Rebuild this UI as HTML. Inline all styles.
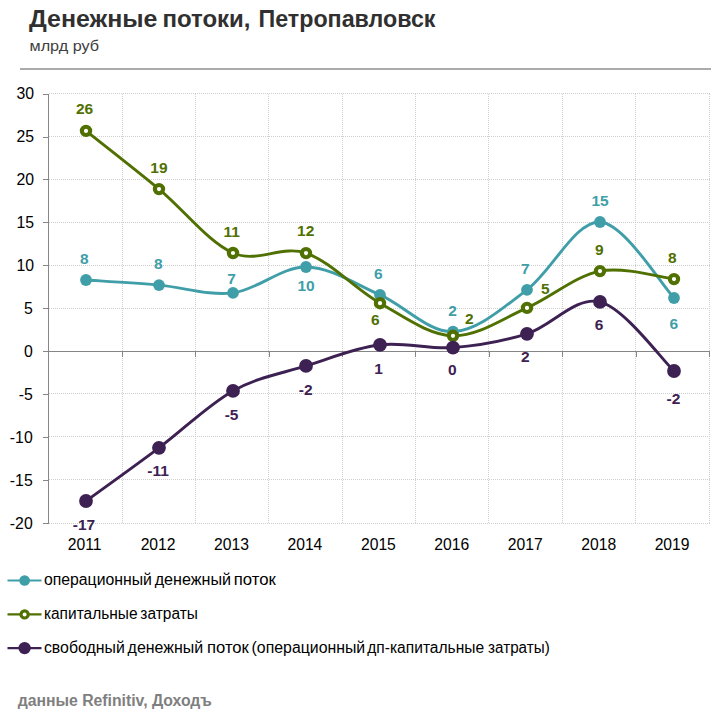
<!DOCTYPE html>
<html><head><meta charset="utf-8">
<style>
html,body{margin:0;padding:0;background:#fff;}
body{width:722px;height:722px;overflow:hidden;position:relative;}
svg{position:absolute;left:0;top:0;}
text{font-family:"Liberation Sans",sans-serif;}
.grid{stroke:#cfcfcf;stroke-width:1;stroke-dasharray:1 1;}
.axis{stroke:#868686;stroke-width:1;}
.yl{font-size:15.8px;fill:#000;text-anchor:end;}
.xl{font-size:15.7px;fill:#000;text-anchor:middle;}
.dl{font-size:15.5px;font-weight:bold;text-anchor:middle;}
.lg{font-size:15.6px;fill:#000;}
.title{font-size:23.4px;font-weight:bold;fill:#303030;}
.sub{font-size:15px;fill:#404040;}
.foot{font-size:15.8px;font-weight:bold;fill:#7f7f7f;}
</style></head><body>
<svg width="722" height="722" viewBox="0 0 722 722">
<text x="29" y="26.7" class="title" textLength="128.5" lengthAdjust="spacingAndGlyphs">Денежные</text><text x="162.5" y="26.7" class="title" textLength="88" lengthAdjust="spacingAndGlyphs">потоки,</text><text x="258.5" y="26.7" class="title" textLength="177" lengthAdjust="spacingAndGlyphs">Петропавловск</text>
<text x="29.5" y="51" class="sub" textLength="69.5" lengthAdjust="spacingAndGlyphs">млрд руб</text>
<rect x="20" y="68" width="691" height="2" fill="#ababab"/>
<line x1="49" y1="93.5" x2="710" y2="93.5" class="grid"/>
<line x1="49" y1="136.5" x2="710" y2="136.5" class="grid"/>
<line x1="49" y1="179.5" x2="710" y2="179.5" class="grid"/>
<line x1="49" y1="222.5" x2="710" y2="222.5" class="grid"/>
<line x1="49" y1="265.5" x2="710" y2="265.5" class="grid"/>
<line x1="49" y1="308.5" x2="710" y2="308.5" class="grid"/>
<line x1="49" y1="393.5" x2="710" y2="393.5" class="grid"/>
<line x1="49" y1="436.5" x2="710" y2="436.5" class="grid"/>
<line x1="49" y1="479.5" x2="710" y2="479.5" class="grid"/>
<line x1="49" y1="523.5" x2="710" y2="523.5" class="grid"/>
<line x1="122.5" y1="94" x2="122.5" y2="523" class="grid"/>
<line x1="195.5" y1="94" x2="195.5" y2="523" class="grid"/>
<line x1="268.5" y1="94" x2="268.5" y2="523" class="grid"/>
<line x1="342.5" y1="94" x2="342.5" y2="523" class="grid"/>
<line x1="415.5" y1="94" x2="415.5" y2="523" class="grid"/>
<line x1="488.5" y1="94" x2="488.5" y2="523" class="grid"/>
<line x1="562.5" y1="94" x2="562.5" y2="523" class="grid"/>
<line x1="635.5" y1="94" x2="635.5" y2="523" class="grid"/>
<line x1="709.5" y1="94" x2="709.5" y2="523" class="grid"/>
<line x1="122.5" y1="351" x2="122.5" y2="357" class="axis"/>
<line x1="195.5" y1="351" x2="195.5" y2="357" class="axis"/>
<line x1="269.5" y1="351" x2="269.5" y2="357" class="axis"/>
<line x1="342.5" y1="351" x2="342.5" y2="357" class="axis"/>
<line x1="415.5" y1="351" x2="415.5" y2="357" class="axis"/>
<line x1="489.5" y1="351" x2="489.5" y2="357" class="axis"/>
<line x1="562.5" y1="351" x2="562.5" y2="357" class="axis"/>
<line x1="636.5" y1="351" x2="636.5" y2="357" class="axis"/>
<line x1="709.5" y1="351" x2="709.5" y2="357" class="axis"/>
<line x1="48.5" y1="94" x2="48.5" y2="524" class="axis"/>
<line x1="43" y1="94.5" x2="49" y2="94.5" class="axis"/>
<text x="34" y="98.8" class="yl">30</text>
<line x1="43" y1="137.5" x2="49" y2="137.5" class="axis"/>
<text x="34" y="141.8" class="yl">25</text>
<line x1="43" y1="179.5" x2="49" y2="179.5" class="axis"/>
<text x="34" y="184.8" class="yl">20</text>
<line x1="43" y1="222.5" x2="49" y2="222.5" class="axis"/>
<text x="34" y="227.8" class="yl">15</text>
<line x1="43" y1="265.5" x2="49" y2="265.5" class="axis"/>
<text x="34" y="270.8" class="yl">10</text>
<line x1="43" y1="308.5" x2="49" y2="308.5" class="axis"/>
<text x="32.7" y="313.8" class="yl">5</text>
<line x1="43" y1="351.5" x2="49" y2="351.5" class="axis"/>
<text x="32.7" y="356.8" class="yl">0</text>
<line x1="43" y1="394.5" x2="49" y2="394.5" class="axis"/>
<text x="32.7" y="399.8" class="yl">-5</text>
<line x1="43" y1="437.5" x2="49" y2="437.5" class="axis"/>
<text x="32.7" y="442.8" class="yl">-10</text>
<line x1="43" y1="480.5" x2="49" y2="480.5" class="axis"/>
<text x="32.7" y="485.8" class="yl">-15</text>
<line x1="43" y1="523.5" x2="49" y2="523.5" class="axis"/>
<text x="32.7" y="528.8" class="yl">-20</text>
<line x1="43" y1="351.5" x2="710" y2="351.5" class="axis"/>
<text x="84.6" y="550" class="xl">2011</text>
<text x="158.1" y="550" class="xl">2012</text>
<text x="231.5" y="550" class="xl">2013</text>
<text x="304.9" y="550" class="xl">2014</text>
<text x="378.4" y="550" class="xl">2015</text>
<text x="451.8" y="550" class="xl">2016</text>
<text x="525.3" y="550" class="xl">2017</text>
<text x="598.7" y="550" class="xl">2018</text>
<text x="672.1" y="550" class="xl">2019</text>
<path d="M86.00,280.00 C98.17,280.85 134.50,282.95 159.00,285.10 C183.50,287.25 208.50,295.92 233.00,292.90 C257.50,289.88 281.50,266.67 306.00,267.00 C330.50,267.33 355.50,284.12 380.00,294.90 C404.50,305.68 428.50,332.55 453.00,331.70 C477.50,330.85 502.50,308.08 527.00,289.80 C551.50,271.52 575.50,220.63 600.00,222.00 C624.50,223.37 661.67,285.33 674.00,298.00" fill="none" stroke="#409ea8" stroke-width="2.9" stroke-linecap="round" stroke-linejoin="round"/>
<circle cx="86" cy="280.0" r="5.9" fill="#409ea8"/>
<circle cx="159" cy="285.1" r="5.9" fill="#409ea8"/>
<circle cx="233" cy="292.9" r="5.9" fill="#409ea8"/>
<circle cx="306" cy="267.0" r="5.9" fill="#409ea8"/>
<circle cx="380" cy="294.9" r="5.9" fill="#409ea8"/>
<circle cx="453" cy="331.7" r="5.9" fill="#409ea8"/>
<circle cx="527" cy="289.8" r="5.9" fill="#409ea8"/>
<circle cx="600" cy="222.0" r="5.9" fill="#409ea8"/>
<circle cx="674" cy="298.0" r="5.9" fill="#409ea8"/>
<path d="M86.00,130.90 C98.17,140.60 134.50,168.75 159.00,189.10 C183.50,209.45 208.50,242.33 233.00,253.00 C257.50,263.67 281.50,244.73 306.00,253.10 C330.50,261.47 355.50,289.42 380.00,303.20 C404.50,316.98 428.50,335.02 453.00,335.80 C477.50,336.58 502.50,318.68 527.00,307.90 C551.50,297.12 575.50,275.90 600.00,271.10 C624.50,266.30 661.67,277.77 674.00,279.10" fill="none" stroke="#507002" stroke-width="2.9" stroke-linecap="round" stroke-linejoin="round"/>
<circle cx="86" cy="130.9" r="4.15" fill="#fff" stroke="#507002" stroke-width="4.1"/>
<circle cx="159" cy="189.1" r="4.15" fill="#fff" stroke="#507002" stroke-width="4.1"/>
<circle cx="233" cy="253.0" r="4.15" fill="#fff" stroke="#507002" stroke-width="4.1"/>
<circle cx="306" cy="253.1" r="4.15" fill="#fff" stroke="#507002" stroke-width="4.1"/>
<circle cx="380" cy="303.2" r="4.15" fill="#fff" stroke="#507002" stroke-width="4.1"/>
<circle cx="453" cy="335.8" r="4.15" fill="#fff" stroke="#507002" stroke-width="4.1"/>
<circle cx="527" cy="307.9" r="4.15" fill="#fff" stroke="#507002" stroke-width="4.1"/>
<circle cx="600" cy="271.1" r="4.15" fill="#fff" stroke="#507002" stroke-width="4.1"/>
<circle cx="674" cy="279.1" r="4.15" fill="#fff" stroke="#507002" stroke-width="4.1"/>
<path d="M86.00,501.00 C98.17,492.13 134.50,466.15 159.00,447.80 C183.50,429.45 208.50,404.55 233.00,390.90 C257.50,377.25 281.50,373.58 306.00,365.90 C330.50,358.22 355.50,347.85 380.00,344.80 C404.50,341.75 428.50,349.43 453.00,347.60 C477.50,345.77 502.50,341.42 527.00,333.80 C551.50,326.18 575.50,295.70 600.00,301.90 C624.50,308.10 661.67,359.48 674.00,371.00" fill="none" stroke="#3d2152" stroke-width="2.9" stroke-linecap="round" stroke-linejoin="round"/>
<circle cx="86" cy="501.0" r="6.9" fill="#3d2152"/>
<circle cx="159" cy="447.8" r="6.9" fill="#3d2152"/>
<circle cx="233" cy="390.9" r="6.9" fill="#3d2152"/>
<circle cx="306" cy="365.9" r="6.9" fill="#3d2152"/>
<circle cx="380" cy="344.8" r="6.9" fill="#3d2152"/>
<circle cx="453" cy="347.6" r="6.9" fill="#3d2152"/>
<circle cx="527" cy="333.8" r="6.9" fill="#3d2152"/>
<circle cx="600" cy="301.9" r="6.9" fill="#3d2152"/>
<circle cx="674" cy="371.0" r="6.9" fill="#3d2152"/>
<text x="84.4" y="263.7" class="dl" fill="#409ea8">8</text>
<text x="158.4" y="268.7" class="dl" fill="#409ea8">8</text>
<text x="231.5" y="283.6" class="dl" fill="#409ea8">7</text>
<text x="306.1" y="290.9" class="dl" fill="#409ea8">10</text>
<text x="378.4" y="279.4" class="dl" fill="#409ea8">6</text>
<text x="452.5" y="315.7" class="dl" fill="#409ea8">2</text>
<text x="525.4" y="273.9" class="dl" fill="#409ea8">7</text>
<text x="600.1" y="205.8" class="dl" fill="#409ea8">15</text>
<text x="673.9" y="328.8" class="dl" fill="#409ea8">6</text>
<text x="84.6" y="113.7" class="dl" fill="#507002">26</text>
<text x="158.9" y="172.9" class="dl" fill="#507002">19</text>
<text x="231.8" y="236.8" class="dl" fill="#507002">11</text>
<text x="305.7" y="236.0" class="dl" fill="#507002">12</text>
<text x="375.4" y="324.7" class="dl" fill="#507002">6</text>
<text x="469.3" y="323.7" class="dl" fill="#507002">2</text>
<text x="545.2" y="293.9" class="dl" fill="#507002">5</text>
<text x="599.3" y="254.7" class="dl" fill="#507002">9</text>
<text x="672.4" y="262.5" class="dl" fill="#507002">8</text>
<text x="84.0" y="530.4" class="dl" fill="#3d2152">-17</text>
<text x="158.0" y="475.7" class="dl" fill="#3d2152">-11</text>
<text x="231.6" y="420.0" class="dl" fill="#3d2152">-5</text>
<text x="305.7" y="394.5" class="dl" fill="#3d2152">-2</text>
<text x="378.5" y="373.8" class="dl" fill="#3d2152">1</text>
<text x="452.4" y="375.3" class="dl" fill="#3d2152">0</text>
<text x="525.2" y="361.7" class="dl" fill="#3d2152">2</text>
<text x="599.0" y="329.6" class="dl" fill="#3d2152">6</text>
<text x="673.5" y="404.0" class="dl" fill="#3d2152">-2</text>
<line x1="7.5" y1="580.5" x2="41.5" y2="580.5" stroke="#409ea8" stroke-width="2.2"/>
<circle cx="24.6" cy="580.5" r="5.3" fill="#409ea8"/>
<text x="43.9" y="585.1" class="lg" textLength="108.0" lengthAdjust="spacingAndGlyphs">операционный</text>
<text x="154.7" y="585.1" class="lg" textLength="76.4" lengthAdjust="spacingAndGlyphs">денежный</text>
<text x="233.8" y="585.1" class="lg" textLength="42.1" lengthAdjust="spacingAndGlyphs">поток</text>
<line x1="7.5" y1="614.4" x2="41.5" y2="614.4" stroke="#507002" stroke-width="2.2"/>
<circle cx="24.6" cy="614.4" r="3.6" fill="#fff" stroke="#507002" stroke-width="3.2"/>
<text x="43.9" y="618.8" class="lg" textLength="93.7" lengthAdjust="spacingAndGlyphs">капитальные</text>
<text x="140.3" y="618.8" class="lg" textLength="57.6" lengthAdjust="spacingAndGlyphs">затраты</text>
<line x1="7.5" y1="648.1" x2="41.5" y2="648.1" stroke="#3d2152" stroke-width="2.2"/>
<circle cx="24.6" cy="648.1" r="6.2" fill="#3d2152"/>
<text x="43.9" y="653.0" class="lg" textLength="80.9" lengthAdjust="spacingAndGlyphs">свободный</text>
<text x="127.6" y="653.0" class="lg" textLength="75.6" lengthAdjust="spacingAndGlyphs">денежный</text>
<text x="207.0" y="653.0" class="lg" textLength="41.9" lengthAdjust="spacingAndGlyphs">поток</text>
<text x="251.6" y="653.0" class="lg" textLength="113.6" lengthAdjust="spacingAndGlyphs">(операционный</text>
<text x="367.3" y="653.0" class="lg" textLength="116.8" lengthAdjust="spacingAndGlyphs">дп-капитальные</text>
<text x="488.1" y="653.0" class="lg" textLength="61.6" lengthAdjust="spacingAndGlyphs">затраты)</text>
<text x="17.7" y="706.3" class="foot" textLength="194" lengthAdjust="spacing">данные Refinitiv, Доходъ</text>
</svg>
</body></html>
